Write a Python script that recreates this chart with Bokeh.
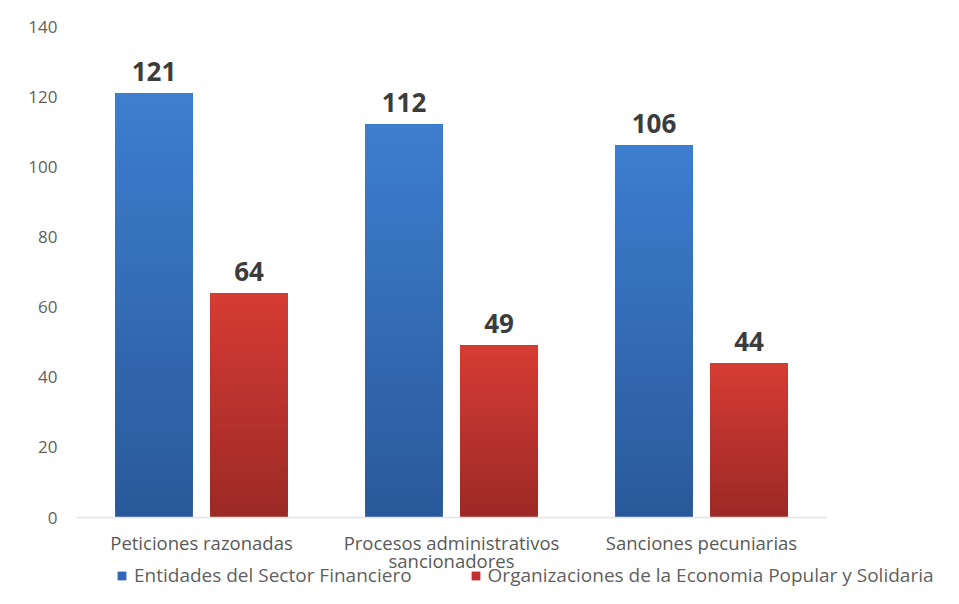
from bokeh.plotting import figure
from bokeh.models import Range1d, FixedTicker, Legend, LegendItem, ColumnDataSource
from bokeh.core.properties import value
from bokeh.embed import file_html
from bokeh.resources import INLINE

categories = ["Peticiones razonadas", "Procesos administrativos\nsancionadores", "Sanciones pecuniarias"]
series_names = ["Entidades del Sector Financiero", "Organizaciones de la Economia Popular y Solidaria"]
entidades = [121, 112, 106]
organizaciones = [64, 49, 44]
y_ticks = [0, 20, 40, 60, 80, 100, 120, 140]

FONT = "Open Sans"
offsets = [-0.19, 0.19]
bar_w = 0.31
grad = [((0x3d, 0x7e, 0xd0), (0x2a, 0x59, 0x9a)),
        ((0xd6, 0x3c, 0x34), (0x9c, 0x29, 0x26))]
legend_colors = ["#3266b6", "#c0302e"]

W, H = 943, 588
left, top_b = 76, 26
cat_px = 250            # pixel width of one category
zero_px = 517           # pixel row of value 0
ymax = y_ticks[-1]
px_per_unit = (zero_px - top_b) / ymax
n = len(categories)
x_end = -0.5 + (W - left) / cat_px
y_start = -(H - zero_px) / px_per_unit

p = figure(width=W, height=H, output_backend="svg", toolbar_location=None,
           x_range=Range1d(-0.5, x_end), y_range=Range1d(y_start, ymax),
           min_border_left=left, min_border_right=0, min_border_top=top_b, min_border_bottom=0)
p.outline_line_color = None
p.grid.visible = False
p.background_fill_color = "white"
p.border_fill_color = "white"
p.xaxis.visible = False

def hexc(c):
    return "#%02x%02x%02x" % c

# base bars per series (used by the legend; covered by the gradient bands)
base_renderers = []
for s, vals in enumerate([entidades, organizaciones]):
    r = p.vbar(x=[i + offsets[s] for i in range(n)], top=vals, width=bar_w,
               fill_color=legend_colors[s], line_color=None)
    base_renderers.append(r)

N = 40
xs, bots, tops, cols = [], [], [], []
for s, vals in enumerate([entidades, organizaciones]):
    top_c, bot_c = grad[s]
    for i, v in enumerate(vals):
        for k in range(N):
            t = (k + 0.5) / N  # 0 bottom -> 1 top
            c = tuple(int(round(bot_c[j] + (top_c[j] - bot_c[j]) * t)) for j in range(3))
            xs.append(i + offsets[s])
            bots.append(v * k / N)
            tops.append(v)
            cols.append(hexc(c))
src = ColumnDataSource(dict(x=xs, bottom=bots, top=tops, color=cols))
p.vbar(x="x", width=bar_w, bottom="bottom", top="top", fill_color="color",
       line_color=None, source=src)

# baseline (category axis line)
p.segment(x0=[-0.5], x1=[n - 0.5], y0=[0], y1=[0], line_color="#e3e3e3", line_width=1.5)

# category labels
p.text(x=list(range(n)), y=[0] * n, text=categories, text_align="center", text_baseline="top",
       y_offset=12, text_font=value(FONT), text_font_size="18.5px", text_color="#595959",
       text_line_height=0.75)

# value labels
lx, ly, lt = [], [], []
for s, vals in enumerate([entidades, organizaciones]):
    for i, v in enumerate(vals):
        lx.append(i + offsets[s]); ly.append(v); lt.append(str(v))
p.text(x=lx, y=ly, text=lt, text_align="center", text_baseline="alphabetic", y_offset=-22,
       text_font=value(FONT), text_font_style="bold", text_font_size="26px", text_color="#3c3c3c")

# y axis
p.yaxis.ticker = FixedTicker(ticks=y_ticks)
p.yaxis.axis_line_color = None
p.yaxis.major_tick_line_color = None
p.yaxis.minor_tick_line_color = None
p.yaxis.major_label_text_font = FONT
p.yaxis.major_label_text_font_size = "17px"
p.yaxis.major_label_text_color = "#5f5f5f"
p.yaxis.major_label_standoff = 13

# legend
legend = Legend(items=[LegendItem(label=series_names[0], renderers=[base_renderers[0]]),
                       LegendItem(label=series_names[1], renderers=[base_renderers[1]])],
                orientation="horizontal", location=(40, 0),
                border_line_color=None, background_fill_alpha=0,
                label_text_font=FONT, label_text_font_size="19px", label_text_color="#5f5f5f",
                glyph_width=11, glyph_height=11, label_standoff=7, spacing=58, padding=0, margin=0)
p.add_layout(legend, "center")

open("out.html", "w").write(file_html(p, INLINE))
